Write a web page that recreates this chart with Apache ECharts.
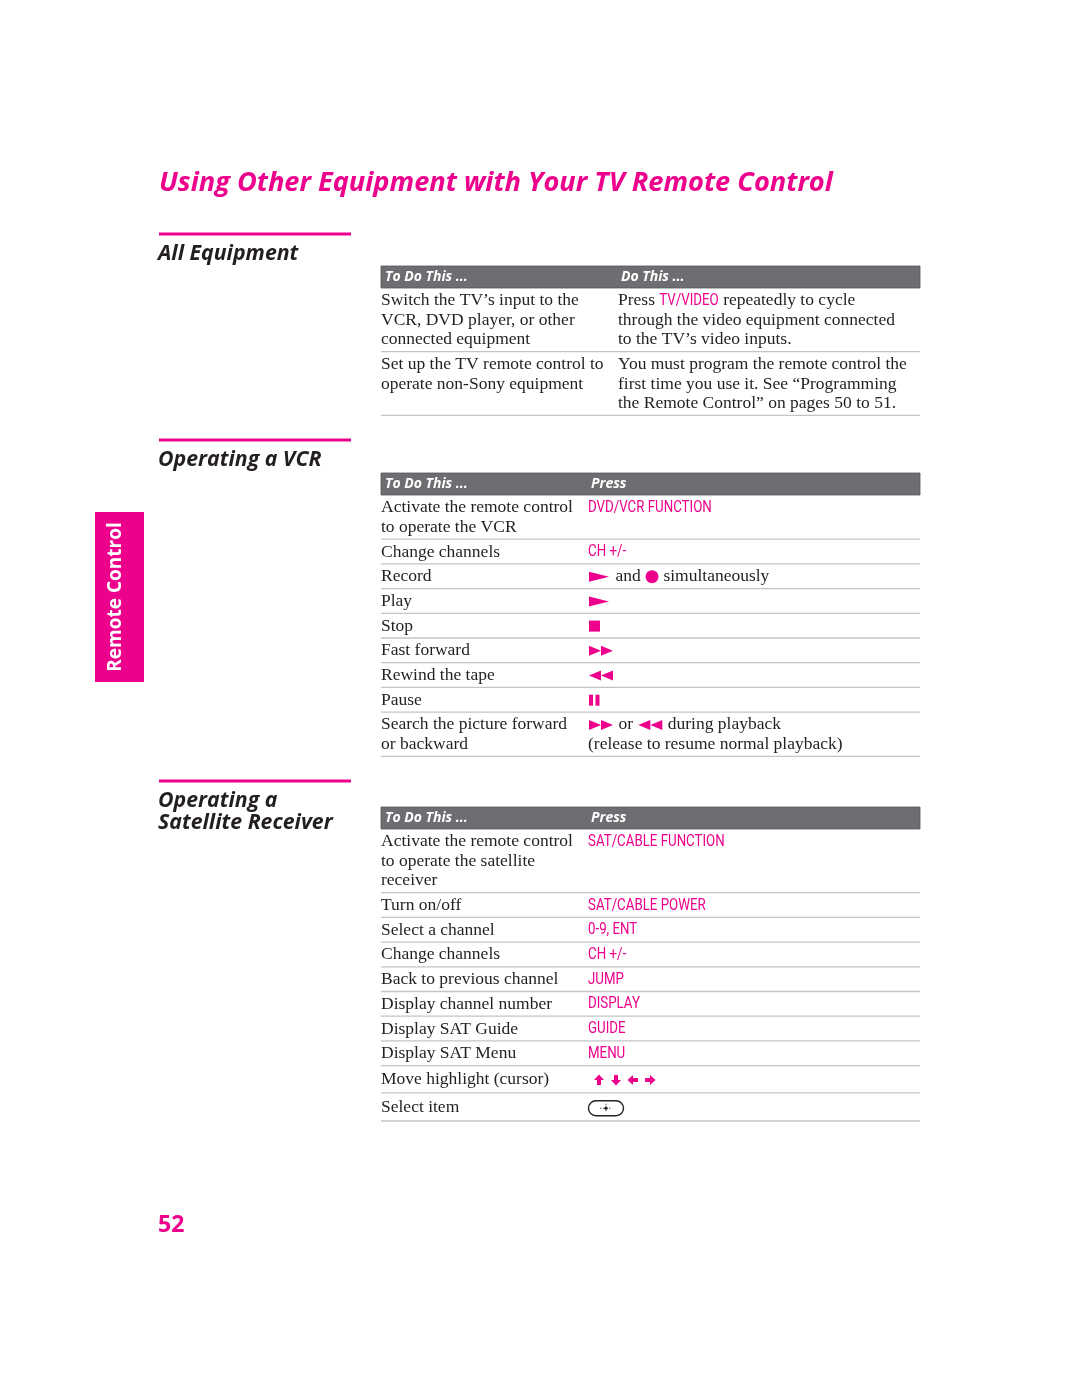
<!DOCTYPE html>
<html><head><meta charset="utf-8">
<script src="https://cdn.jsdelivr.net/npm/echarts@6/dist/echarts.min.js"></script>
<style>html,body{margin:0;padding:0;background:#fff}#c{width:1080px;height:1397px}</style>
</head><body><div id="c"></div>
<script>
// ---------- content ----------
const pageTitle = 'Using Other Equipment with Your TV Remote Control';
const sideTab = 'Remote Control';
const pageNumber = '52';
const sectionTitles = ['All Equipment', 'Operating a VCR', 'Operating a\nSatellite Receiver'];
const tableHeaders = [['To Do This ...', 'Do This ...'], ['To Do This ...', 'Press'], ['To Do This ...', 'Press']];

const allTasks = [
  'Switch the TV\u2019s input to the\nVCR, DVD player, or other\nconnected equipment',
  'Set up the TV remote control to\noperate non-Sony equipment'
];
const allActions = [
  'Press {TV/VIDEO} repeatedly to cycle\nthrough the video equipment connected\nto the TV\u2019s video inputs.',
  'You must program the remote control the\nfirst time you use it. See \u201cProgramming\nthe Remote Control\u201d on pages 50 to 51.'
];

const vcrTasks = [
  'Activate the remote control\nto operate the VCR',
  'Change channels', 'Record', 'Play', 'Stop', 'Fast forward',
  'Rewind the tape', 'Pause', 'Search the picture forward\nor backward'
];
const vcrKeys = [
  '{DVD/VCR FUNCTION}', '{CH +/-}', '[play] and [rec] simultaneously', '[play]', '[stop]',
  '[ff]', '[rew]', '[pause]', '[ff] or [rew] during playback\n(release to resume normal playback)'
];

const satTasks = [
  'Activate the remote control\nto operate the satellite\nreceiver',
  'Turn on/off', 'Select a channel', 'Change channels', 'Back to previous channel',
  'Display channel number', 'Display SAT Guide', 'Display SAT Menu',
  'Move highlight (cursor)', 'Select item'
];
const satKeys = [
  '{SAT/CABLE FUNCTION}', '{SAT/CABLE POWER}', '{0-9, ENT}', '{CH +/-}', '{JUMP}',
  '{DISPLAY}', '{GUIDE}', '{MENU}', '[up][down][left][right]', '[sel]'
];

// ---------- styling ----------
const MAG = '#EC008C';
const GRAY = '#6D6E71';
const INK = '#231F20';
const SERIF = '17.5px "Liberation Serif", serif';
const KEYF = '16px Roboto, "Liberation Sans", sans-serif';
const KEY_SX = 0.83;
const HEADF = 'italic bold 14px "Open Sans", sans-serif';
const LINE_H = 19.5;

const cv = document.createElement('canvas').getContext('2d');
function measure(t, f) { cv.font = f; return cv.measureText(t).width; }

const els = [];
function txt(t, x, y, font, fill, extra) {
  els.push(Object.assign({ type: 'text', x: x, y: y, silent: true,
    style: { text: t, font: font, fill: fill, verticalAlign: 'middle', align: 'left' } }, extra || {}));
}

// icon drawing: returns width consumed
function icon(name, x, y) {
  const fill = { fill: MAG };
  const tri = (x0, w, h, dir) => dir > 0
    ? [[x0, y - h / 2], [x0 + w, y], [x0, y + h / 2]]
    : [[x0 + w, y - h / 2], [x0, y], [x0 + w, y + h / 2]];
  switch (name) {
    case 'play':
      els.push({ type: 'polygon', shape: { points: tri(x + 1, 20, 10, 1) }, style: fill }); return 23;
    case 'rec':
      els.push({ type: 'circle', shape: { cx: x + 7, cy: y, r: 6.5 }, style: fill }); return 14;
    case 'stop':
      els.push({ type: 'rect', shape: { x: x + 1, y: y - 5.5, width: 11, height: 11 }, style: fill }); return 13;
    case 'ff':
      els.push({ type: 'polygon', shape: { points: tri(x + 1, 12, 10, 1) }, style: fill });
      els.push({ type: 'polygon', shape: { points: tri(x + 13, 12, 10, 1) }, style: fill }); return 26;
    case 'rew':
      els.push({ type: 'polygon', shape: { points: tri(x + 1, 12, 10, -1) }, style: fill });
      els.push({ type: 'polygon', shape: { points: tri(x + 13, 12, 10, -1) }, style: fill }); return 26;
    case 'pause':
      els.push({ type: 'rect', shape: { x: x + 1, y: y - 5.5, width: 4, height: 11 }, style: fill });
      els.push({ type: 'rect', shape: { x: x + 7.5, y: y - 5.5, width: 4, height: 11 }, style: fill }); return 13;
    case 'up': case 'down': case 'left': case 'right': {
      const p = [[0, -5.5], [5, 0], [2, 0], [2, 5], [-2, 5], [-2, 0], [-5, 0]];
      const rot = { up: 0, down: Math.PI, left: Math.PI / 2, right: -Math.PI / 2 }[name];
      const lead = name === 'up' ? 5 : 0;
      els.push({ type: 'polygon', x: x + lead + 6, y: y, rotation: rot, shape: { points: p }, style: fill });
      return lead + 17;
    }
    case 'sel':
      els.push({ type: 'rect', shape: { x: x + 0.5, y: y - 7, width: 35, height: 15, r: 7.5 },
        style: { fill: 'none', stroke: '#222', lineWidth: 1.4 } });
      els.push({ type: 'circle', shape: { cx: x + 18, cy: y + 0.5, r: 1.6 }, style: { fill: '#222' } });
      els.push({ type: 'line', shape: { x1: x + 18, y1: y - 4, x2: x + 18, y2: y + 5 }, style: { stroke: '#222', lineWidth: 0.8, lineDash: [1.5, 1.5] } });
      els.push({ type: 'line', shape: { x1: x + 12, y1: y + 0.5, x2: x + 24, y2: y + 0.5 }, style: { stroke: '#222', lineWidth: 0.8, lineDash: [1.5, 1.5] } });
      return 38;
  }
  return 0;
}

function richLine(line, x, y) {
  const parts = line.split(/(\[[a-z]+\]|\{[^}]+\})/).filter(s => s.length);
  let cx = x;
  parts.forEach(p => {
    if (p[0] === '[') { cx += icon(p.slice(1, -1), cx, y); }
    else if (p[0] === '{') {
      const t = p.slice(1, -1);
      txt(t, cx, y, KEYF, MAG, { scaleX: KEY_SX });
      cx += measure(t, KEYF) * KEY_SX;
    }
    else { txt(p, cx, y, SERIF, INK); cx += measure(p, SERIF); }
  });
}

function table(top, col2, hdr, tasks, actions) {
  const x0 = 381, x1 = 920;
  els.push({ type: 'rect', shape: { x: x0, y: top, width: x1 - x0, height: 22 },
    style: { fill: GRAY, stroke: '#55565a', lineWidth: 0.8 } });
  txt(hdr[0], x0 + 4, top + 11, HEADF, '#fff');
  txt(hdr[1], col2 + 3, top + 11, HEADF, '#fff');
  let y = top + 22;
  tasks.forEach((t, i) => {
    const tl = t.split('\n'), al = actions[i].split('\n');
    const n = Math.max(tl.length, al.length);
    const tall = /\[(up|sel)\]/.test(actions[i]) ? (actions[i] === '[sel]' ? 3.5 : 2.5) : 0;
    const h = n * LINE_H + 5.2 + tall;
    const base = y + 12.8 + tall * 0.6;
    tl.forEach((line, k) => txt(line, x0, base + k * LINE_H, SERIF, INK));
    al.forEach((line, k) => richLine(line, col2, base + k * LINE_H));
    y += h;
    els.push({ type: 'line', shape: { x1: x0, y1: y, x2: x1, y2: y }, style: { stroke: '#c4c4c4', lineWidth: 1.3 } });
  });
}

// page title
txt(pageTitle, 159, 183, 'italic bold 27.2px "Open Sans", sans-serif', MAG);

// section headings
const secTops = [234, 440, 781];
const SECF = 'italic bold 21.3px "Open Sans", sans-serif';
secTops.forEach((t, i) => {
  els.push({ type: 'rect', shape: { x: 159, y: t - 1.5, width: 192, height: 3 }, style: { fill: MAG } });
  sectionTitles[i].split('\n').forEach((l, k) => txt(l, 158, t + 19.5 + k * 22.5, SECF, INK));
});

// tables
table(266, 618, tableHeaders[0], allTasks, allActions);
table(473, 588, tableHeaders[1], vcrTasks, vcrKeys);
table(807, 588, tableHeaders[2], satTasks, satKeys);

// side tab
els.push({ type: 'rect', shape: { x: 95, y: 512, width: 49, height: 170 }, style: { fill: MAG } });
els.push({ type: 'text', x: 116, y: 597, rotation: Math.PI / 2,
  style: { text: sideTab, font: 'bold 19px "Open Sans", sans-serif', fill: '#fff', align: 'center', verticalAlign: 'middle' } });

// page number
txt(pageNumber, 158, 1225, 'bold 23px "Open Sans", sans-serif', MAG);

const chart = echarts.init(document.getElementById('c'), null, { renderer: 'canvas' });
chart.setOption({ backgroundColor: '#fff', animation: false, graphic: { elements: els } });
</script></body></html>
